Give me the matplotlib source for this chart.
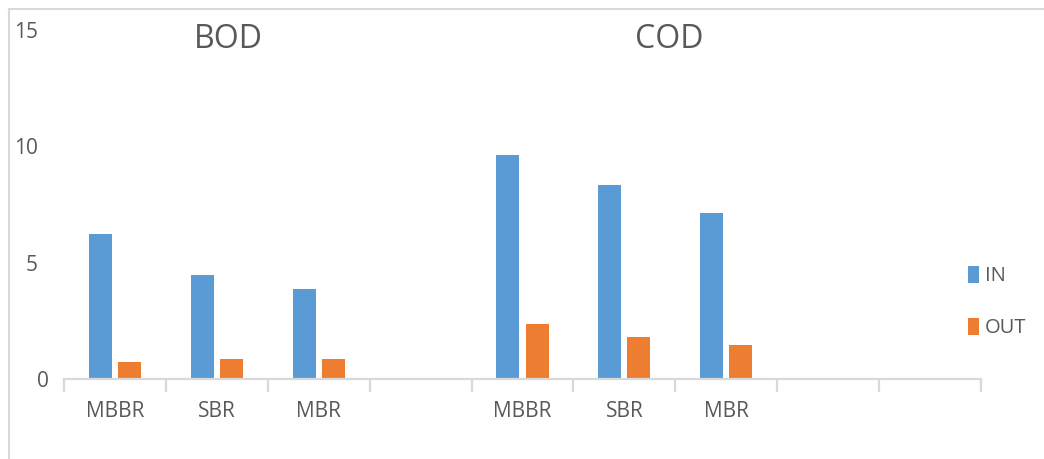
import matplotlib.pyplot as plt
import matplotlib.transforms as mtransforms
import numpy as np

plt.rcParams['font.family'] = ['Open Sans', 'DejaVu Sans']

## categorias (9 en el eje, las vacias sin barras)
cats = ['MBBR', 'SBR', 'MBR', '', 'MBBR', 'SBR', 'MBR', '', '']
in_vals = [6.23, 4.47, 3.87, np.nan, 9.63, 8.34, 7.13, np.nan, np.nan]
out_vals = [0.75, 0.88, 0.88, np.nan, 2.36, 1.80, 1.46, np.nan, np.nan]
grupos = ['BOD', 'COD']
series = ['IN', 'OUT']

gris = '#595959'
linea = '#D9D9D9'

fig = plt.figure(figsize=(10.44, 4.59), dpi=100)
ax = fig.add_axes([64/1044, 1 - 379/459, (981-64)/1044, (379-30)/459])

x = np.arange(len(cats))
w = 0.225
ax.bar(x - 0.143, in_vals, w, color='#5B9BD5', label=series[0])
ax.bar(x + 0.143, out_vals, w, color='#ED7D31', label=series[1])

ax.set_xlim(-0.5, len(cats) - 0.5)
ax.set_ylim(0, 15)
ax.set_yticks([0, 5, 10, 15])

## eje x estilo excel
for s in ['top', 'right', 'left']:
    ax.spines[s].set_visible(False)
ax.spines['bottom'].set_color(linea)
ax.spines['bottom'].set_linewidth(1.6)

ax.set_xticks(x)
ax.set_xticklabels(cats, fontsize=15, color=gris)
ax.tick_params(axis='x', length=0, pad=16)
ax.set_xticks(np.arange(len(cats) + 1) - 0.5, minor=True)
ax.tick_params(axis='x', which='minor', length=9, width=1.6, color=linea)

ax.tick_params(axis='y', length=0, labelsize=15, labelcolor=gris, pad=19)
for lab in ax.get_yticklabels():
    lab.set_horizontalalignment('right')
# el 0 esta corrido a la derecha en el original
lab0 = ax.get_yticklabels()[0]
lab0.set_transform(lab0.get_transform() + mtransforms.ScaledTranslation(11/100, 0, fig.dpi_scale_trans))

## titulos de grupo
ax.text(1.11, 14.6, grupos[0], ha='center', va='center', fontsize=23, color=gris)
ax.text(5.44, 14.6, grupos[1], ha='center', va='center', fontsize=23, color=gris)

leg = fig.legend(loc='center left', bbox_to_anchor=(960/1044, 1 - 302/459), frameon=False,
                 fontsize=14.5, handlelength=0.55, handleheight=0.95, handletextpad=0.3,
                 labelspacing=1.55, borderaxespad=0)
for t in leg.get_texts():
    t.set_color(gris)

## marco del grafico
fig.add_artist(plt.Line2D([9/1044, 1], [1 - 9/459, 1 - 9/459], color=linea, lw=1.5))
fig.add_artist(plt.Line2D([9/1044, 9/1044], [0, 1 - 9/459], color=linea, lw=1.5))

fig.savefig('out.png', dpi=100)
